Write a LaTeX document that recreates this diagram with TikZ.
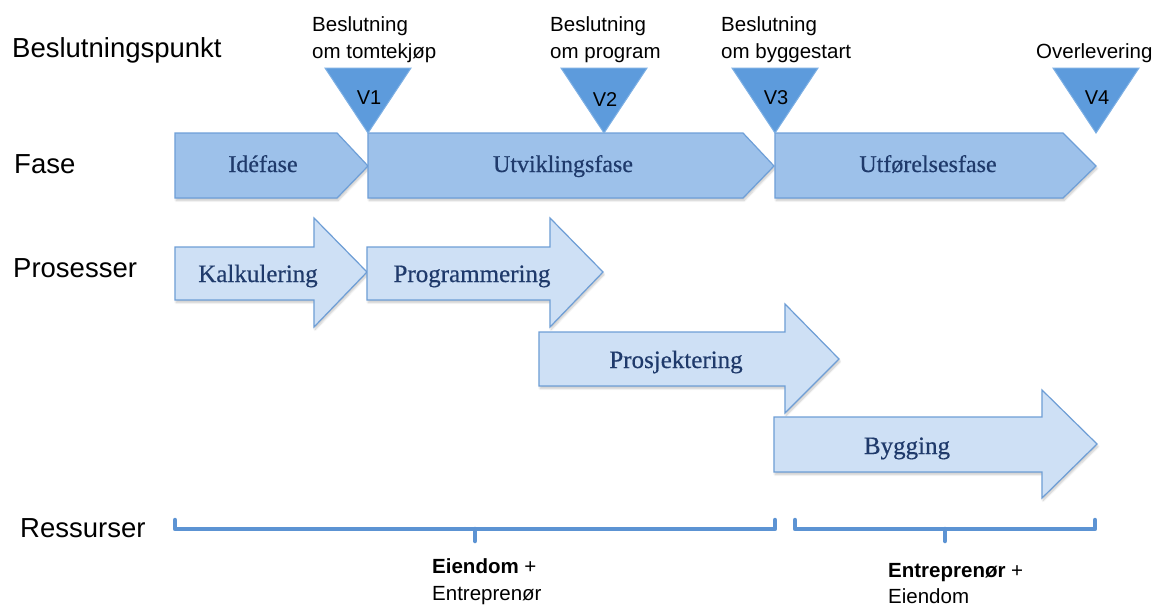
\documentclass[tikz,border=0pt]{standalone}
\usepackage{fontspec}
\setmainfont{Liberation Sans}
\newfontfamily\shapeserif[FakeBold=0.5]{Liberation Serif}
\usetikzlibrary{shadows.blur}

\definecolor{phasefill}{HTML}{9DC1EA}
\definecolor{phaseline}{HTML}{6E9FD8}
\definecolor{procfill}{HTML}{CEE0F5}
\definecolor{procline}{HTML}{6E9ED6}
\definecolor{gatefill}{HTML}{5D9BDC}
\definecolor{gateline}{HTML}{7EB0E4}
\definecolor{navy}{HTML}{1F3A6B}
\definecolor{bracecol}{HTML}{5C93D3}

\tikzset{
  softshadow/.style={blur shadow={shadow xshift=1pt, shadow yshift=-2.5pt,
      shadow blur steps=6, shadow blur radius=2pt, shadow opacity=22}},
  phase/.style={fill=phasefill, draw=phaseline, line width=1.2pt, softshadow},
  proc/.style={fill=procfill, draw=procline, line width=1.2pt, softshadow},
  gate/.style={fill=gatefill, draw=gateline, line width=1pt},
  brace/.style={draw=bracecol, line width=4.5pt, line cap=round, line join=round},
  rowlabel/.style={anchor=base west, inner sep=0pt, font=\fontsize{27.5}{33}\selectfont},
  gatelabel/.style={anchor=base, inner sep=0pt, font=\fontsize{20}{24}\selectfont},
  decision/.style={anchor=north west, inner sep=0pt, align=left,
      font=\fontsize{20.5}{27}\selectfont},
  phasetext/.style={anchor=base, inner sep=0pt, text=navy,
      font=\shapeserif\fontsize{24}{28}\selectfont},
  proctext/.style={anchor=base, inner sep=0pt, text=navy,
      font=\shapeserif\fontsize{25}{30}\selectfont},
  restext/.style={anchor=base west, inner sep=0pt, align=left,
      font=\fontsize{20.5}{27}\selectfont},
}

\begin{document}
\begin{tikzpicture}[x=1pt, y=-1pt]
\useasboundingbox (0,0) rectangle (1156,606);

% row headings
\node[rowlabel] (hBeslutning) at (12,57)  {Beslutningspunkt};
\node[rowlabel] (hFase)       at (14,173) {Fase};
\node[rowlabel] (hProsesser)  at (13,277) {Prosesser};
\node[rowlabel] (hRessurser)  at (20,537) {Ressurser};

% phases
\draw[phase] (175,133) -- (337,133) -- (368,166) -- (337,198) -- (175,198) -- cycle;
\draw[phase] (368,133) -- (743,133) -- (774,166) -- (743,198) -- (368,198) -- cycle;
\draw[phase] (775,133) -- (1063,133) -- (1096,166) -- (1063,198) -- (775,198) -- cycle;
\node[phasetext] (pIde)  at (263,172) {Idéfase};
\node[phasetext] (pUtv)  at (563,172) {Utviklingsfase};
\node[phasetext] (pUtf)  at (928,172) {Utførelsesfase};

% decision gates
\draw[gate] (325,68) -- (411,68) -- (368,133) -- cycle;
\draw[gate] (561,68) -- (647,68) -- (604,133) -- cycle;
\draw[gate] (732,68) -- (818,68) -- (775,133) -- cycle;
\draw[gate] (1053,68) -- (1139,68) -- (1096,133) -- cycle;
\node[gatelabel] (v1) at (369,104) {V1};
\node[gatelabel] (v2) at (605,106) {V2};
\node[gatelabel] (v3) at (776,104) {V3};
\node[gatelabel] (v4) at (1097,104) {V4};

\node[decision] (d1) at (312,16) {Beslutning\\om tomtekjøp};
\node[decision] (d2) at (550,16) {Beslutning\\om program};
\node[decision] (d3) at (721,16) {Beslutning\\om byggestart};
\node[decision] (d4) at (1036,43) {Overlevering};

% processes
\draw[proc] (175,247) -- (314,247) -- (314,218) -- (367,272) -- (314,327) -- (314,300) -- (175,300) -- cycle;
\draw[proc] (367,247) -- (550,247) -- (550,218) -- (603,272) -- (550,327) -- (550,300) -- (367,300) -- cycle;
\draw[proc] (539,332) -- (785,332) -- (785,304) -- (839,359) -- (785,413) -- (785,386) -- (539,386) -- cycle;
\draw[proc] (774,417) -- (1042,417) -- (1042,390) -- (1097,444) -- (1042,498) -- (1042,472) -- (774,472) -- cycle;
\node[proctext] (kKalk) at (258,282) {Kalkulering};
\node[proctext] (kProg) at (472,282) {Programmering};
\node[proctext] (kProsj) at (676,368) {Prosjektering};
\node[proctext] (kBygg) at (907,454) {Bygging};

% resources
\draw[brace] (175,520) -- (175,529) -- (775,529) -- (775,520);
\draw[brace] (475,529) -- (475,541);
\draw[brace] (795,520) -- (795,529) -- (1095,529) -- (1095,520);
\draw[brace] (945,529) -- (945,541);

\node[restext] (r1a) at (432,573) {\textbf{Eiendom} +};
\node[restext] (r1b) at (432,600) {Entreprenør};
\node[restext] (r2a) at (888,577) {\textbf{Entreprenør} +};
\node[restext] (r2b) at (888,603) {Eiendom};
\end{tikzpicture}
\end{document}
